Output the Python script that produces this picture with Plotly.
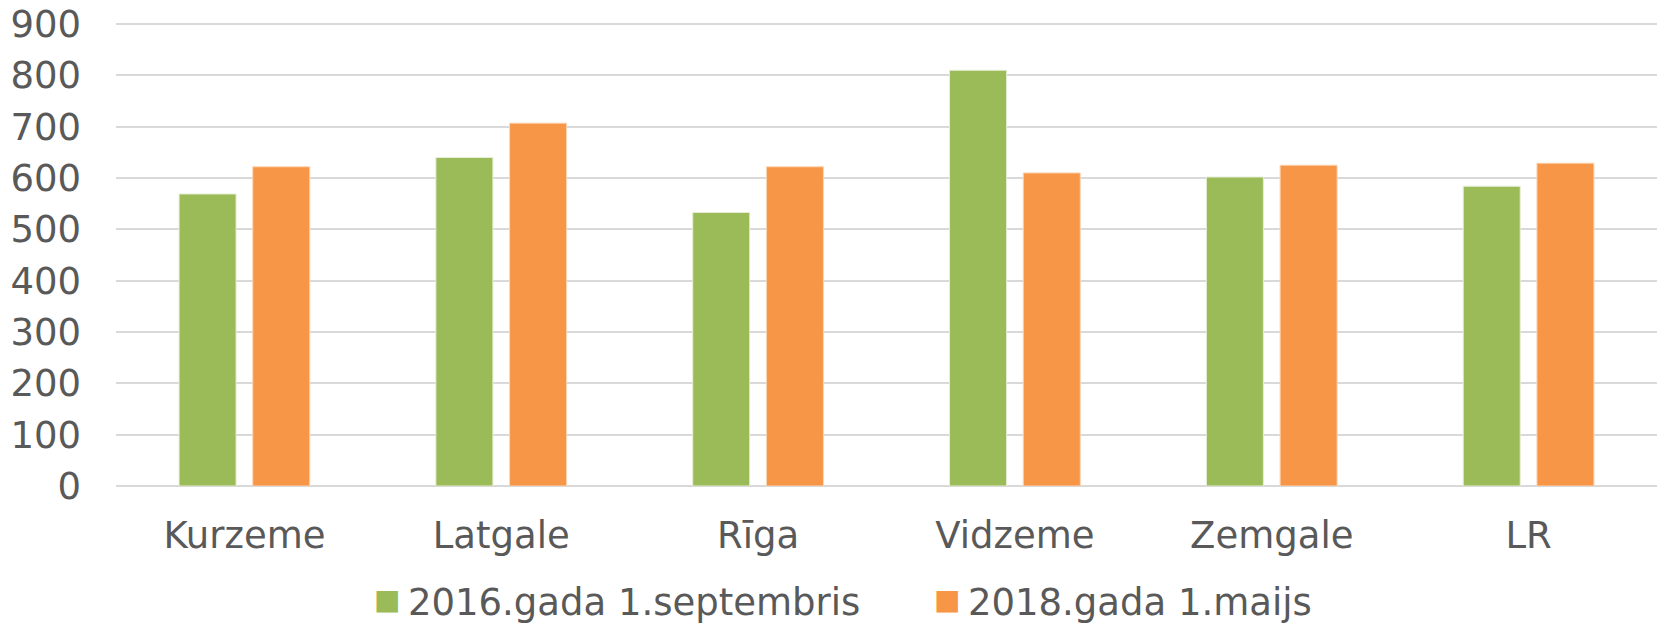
import plotly.graph_objects as go

categories = ["Kurzeme", "Latgale", "Rīga", "Vidzeme", "Zemgale", "LR"]
series_2016 = [569, 640, 533, 810, 602, 584]
series_2018 = [622, 707, 622, 610, 625, 629]
name_2016 = "2016.gada 1.septembris"
name_2018 = "2018.gada 1.maijs"
y_ticks = [0, 100, 200, 300, 400, 500, 600, 700, 800, 900]

GREEN = "#9BBB59"
ORANGE = "#F79646"
TEXT = "#595959"
GRID = "#D9D9D9"
FONT = "Verdana, DejaVu Sans, sans-serif"
FS = 37

fig = go.Figure()
fig.add_trace(go.Bar(x=categories, y=series_2016, name=name_2016,
                     marker=dict(color=GREEN, line=dict(color="#E6EED5", width=1)),
                     showlegend=False))
fig.add_trace(go.Bar(x=categories, y=series_2018, name=name_2018,
                     marker=dict(color=ORANGE, line=dict(color="#FBD5B5", width=1)),
                     showlegend=False))


def legend_label(color, text):
    return (f'<span style="color:{color};font-size:28px;baseline-shift:6px">\u25A0</span>'
            f'\u2009{text}')


# legend entries: coloured square glyph + label, invisible symbol
for color, name in [(GREEN, name_2016), (ORANGE, name_2018)]:
    fig.add_trace(go.Scatter(x=[None], y=[None], mode="markers", name=legend_label(color, name),
                             marker=dict(size=1, color="rgba(0,0,0,0)")))

fig.update_layout(
    width=1659, height=626,
    margin=dict(l=116, r=2, t=21, b=140, autoexpand=False),
    paper_bgcolor="white", plot_bgcolor="white",
    barmode="group", bargap=0.426, bargroupgap=0.2266,
    font=dict(family=FONT, size=FS, color=TEXT),
    showlegend=True,
    legend=dict(orientation="h", x=0.1415, xanchor="left", y=-0.247, yanchor="middle",
                font=dict(family=FONT, size=FS, color=TEXT),
                entrywidth=515, entrywidthmode="pixels", itemwidth=30,
                bgcolor="rgba(0,0,0,0)"),
)
fig.update_yaxes(range=[0, 906], tickvals=y_ticks, showgrid=True, gridcolor=GRID, gridwidth=1.5,
                 zeroline=True, zerolinecolor=GRID, zerolinewidth=1.5,
                 showline=False, ticks="", ticklabelstandoff=34, automargin=False,
                 ticklabeloverflow="allow",
                 tickfont=dict(family=FONT, size=FS, color=TEXT), fixedrange=True)
fig.update_xaxes(showgrid=False, showline=False, ticks="", ticklabelstandoff=24, automargin=False,
                 ticklabeloverflow="allow",
                 tickfont=dict(family=FONT, size=FS, color=TEXT), fixedrange=True)

page_css = (
    "var s='margin:0;padding:0;overflow:hidden;width:1659px;height:626px;';"
    "document.documentElement.style.cssText=s;document.body.style.cssText=s;"
)
fig.write_html("out.html", config={"displayModeBar": False},
               post_script=page_css)
